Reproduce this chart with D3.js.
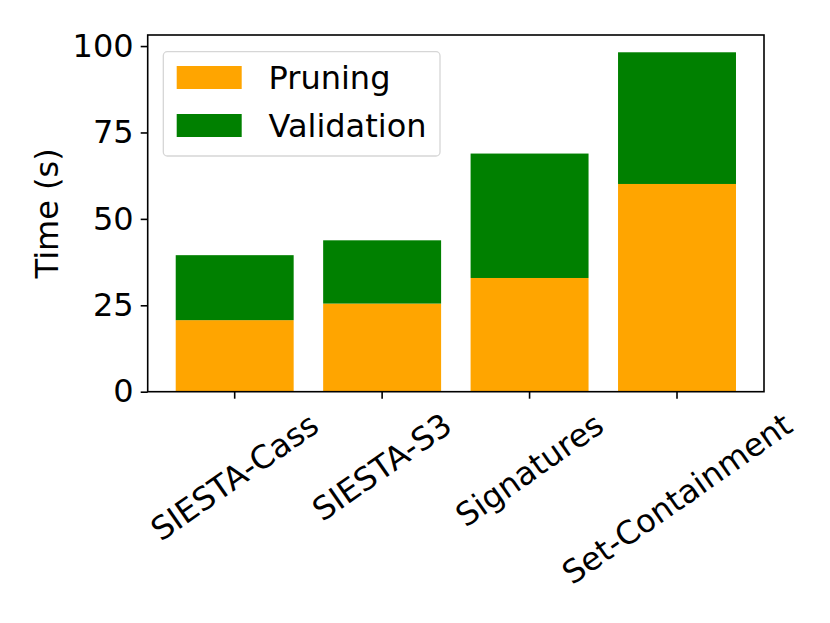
<!DOCTYPE html>
<html>
<head>
<meta charset="utf-8">
<script src="https://cdn.jsdelivr.net/npm/d3@7"></script>
<style>
  body { margin: 0; background: #fff; }
  svg { font-family: "DejaVu Sans", sans-serif; }
</style>
</head>
<body>
<svg width="830" height="623"></svg>
<script>
// данные
const categories = ["SIESTA-Cass", "SIESTA-S3", "Signatures", "Set-Containment"];
const pruning = [20.7, 25.5, 32.9, 60.1];
const validation = [18.8, 18.3, 36.0, 38.1];
const yTicks = [0, 25, 50, 75, 100];
const seriesNames = ["Pruning", "Validation"];
const seriesColors = ["orange", "green"];

const svg = d3.select("svg");
const area = { left: 147.7, right: 764, top: 35, bottom: 391.7 };
const fontSize = 32;

// шкалы
const scaleX = d3.scaleBand()
    .domain(categories)
    .range([area.left, area.right])
    .paddingInner(0.2)
    .paddingOuter(0.19);

const scaleY = d3.scaleLinear()
    .domain([0, 103.2])
    .range([area.bottom, area.top]);

// столбцы
const rows = categories.map((c, i) => ({ label: c, Pruning: pruning[i], Validation: validation[i] }));
const stack = d3.stack().keys(seriesNames)(rows);

svg.append("g")
    .selectAll("g")
    .data(stack)
    .enter()
    .append("g")
    .style("fill", (d, i) => seriesColors[i])
    .selectAll("rect")
    .data(d => d)
    .enter()
    .append("rect")
    .attr("x", d => scaleX(d.data.label))
    .attr("width", scaleX.bandwidth())
    .attr("y", d => scaleY(d[1]))
    .attr("height", d => scaleY(d[0]) - scaleY(d[1]));

// рамка
svg.append("rect")
    .attr("x", area.left)
    .attr("y", area.top)
    .attr("width", area.right - area.left)
    .attr("height", area.bottom - area.top)
    .style("fill", "none")
    .style("stroke", "#000")
    .style("stroke-width", 1.6);

// ось Y
const axisY = d3.axisLeft(scaleY)
    .tickValues(yTicks)
    .tickSize(7)
    .tickPadding(7)
    .tickSizeOuter(0);
const gY = svg.append("g")
    .attr("transform", `translate(${area.left},0)`)
    .call(axisY);
gY.select(".domain").remove();
gY.selectAll("line").style("stroke", "#000").style("stroke-width", 1.6);
gY.selectAll("text")
    .style("font-size", fontSize + "px")
    .style("font-family", "DejaVu Sans")
    .attr("fill", "#000");

// ось X
const axisX = d3.axisBottom(scaleX)
    .tickSize(7)
    .tickSizeOuter(0)
    .tickFormat("");
const gX = svg.append("g")
    .attr("transform", `translate(0,${area.bottom})`)
    .call(axisX);
gX.select(".domain").remove();
gX.selectAll("line").style("stroke", "#000").style("stroke-width", 1.6);

// наклонные подписи, выровненные по центру как в matplotlib
const angle = 35 * Math.PI / 180;
const textH = fontSize * 1.164;
const labelTop = area.bottom + 7 + 7;
categories.forEach(c => {
    const t = svg.append("text")
        .text(c)
        .style("font-size", fontSize + "px")
        .attr("text-anchor", "middle")
        .attr("dominant-baseline", "central");
    const w = t.node().getComputedTextLength();
    const cx = scaleX(c) + scaleX.bandwidth() / 2;
    const cy = labelTop + (w * Math.sin(angle) + textH * Math.cos(angle)) / 2;
    t.attr("transform", `translate(${cx},${cy}) rotate(-35)`);
});

// подпись оси Y
svg.append("text")
    .attr("transform", `translate(47,${(area.top + area.bottom) / 2}) rotate(-90)`)
    .attr("text-anchor", "middle")
    .attr("dominant-baseline", "central")
    .style("font-size", fontSize + "px")
    .text("Time (s)");

// легенда
const legend = svg.append("g");
legend.append("rect")
    .attr("x", 163.3)
    .attr("y", 51.7)
    .attr("width", 276.7)
    .attr("height", 104.3)
    .attr("rx", 4)
    .style("fill", "#fff")
    .style("fill-opacity", 0.8)
    .style("stroke", "#d6d6d6")
    .style("stroke-width", 1.3);

seriesNames.forEach((name, i) => {
    const y = 66 + i * 48;
    legend.append("rect")
        .attr("x", 176.7)
        .attr("y", y)
        .attr("width", 65)
        .attr("height", 23)
        .style("fill", seriesColors[i]);
    legend.append("text")
        .attr("x", 268.5)
        .attr("y", y + 11.5)
        .attr("dominant-baseline", "central")
        .style("font-size", fontSize + "px")
        .text(name);
});
</script>
</body>
</html>
